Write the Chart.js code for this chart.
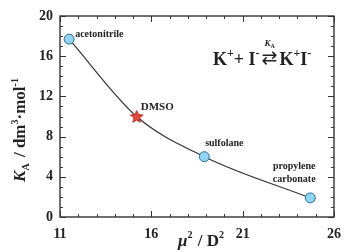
<!DOCTYPE html>
<html>
<head>
<meta charset="utf-8">
<script src="https://cdn.jsdelivr.net/npm/chart.js@4/dist/chart.umd.min.js"></script>
<style>
html, body { margin: 0; padding: 0; background: #fff; }
#wrap { width: 350px; height: 252px; }
</style>
</head>
<body>
<div id="wrap"><canvas id="chart"></canvas></div>
<script>
// Data
const solvents = ['acetonitrile', 'DMSO', 'sulfolane', 'propylene carbonate'];
const muSqOverD2 = [11.5, 15.2, 18.9, 24.7];
const kA = [17.7, 10.0, 6.0, 1.9];
const xTickLabels = [11, 16, 21, 26];
const yTickLabels = [0, 4, 8, 12, 16, 20];

const SERIF = '"Liberation Serif", "DejaVu Serif", serif';
const INK = '#222';

// Filled five point star for DMSO
function makeStar(size) {
    const c = document.createElement('canvas');
    c.width = size; c.height = size;
    const g = c.getContext('2d');
    const r = size / 2 - 1, ri = r * 0.45, cx = size / 2, cy = size / 2 + 0.5;
    g.beginPath();
    for (let i = 0; i < 10; i++) {
        const a = -Math.PI / 2 + i * Math.PI / 5;
        const rr = i % 2 ? ri : r;
        g.lineTo(cx + rr * Math.cos(a), cy + rr * Math.sin(a));
    }
    g.closePath();
    g.fillStyle = '#e5483c';
    g.fill();
    g.strokeStyle = '#a8281e';
    g.lineWidth = 1;
    g.stroke();
    return c;
}

const points = muSqOverD2.map((x, i) => ({ x: x, y: kA[i] }));
const star = makeStar(15);

// Draw a run of text pieces: [text, font, dy, extra gap]
function drawRun(ctx, pieces, x, y) {
    let cx = x;
    pieces.forEach(p => {
        ctx.font = p[1];
        ctx.fillText(p[0], cx, y + (p[2] || 0));
        cx += ctx.measureText(p[0]).width + (p[3] || 0);
    });
    return cx - x;
}
function runWidth(ctx, pieces) {
    let w = 0;
    pieces.forEach(p => { ctx.font = p[1]; w += ctx.measureText(p[0]).width + (p[3] || 0); });
    return w;
}

const framePlugin = {
    id: 'frame',
    afterDraw(chart) {
        const ctx = chart.ctx;
        const a = chart.chartArea;
        const xs = chart.scales.x, ys = chart.scales.y;
        ctx.save();
        ctx.strokeStyle = '#333';
        ctx.lineWidth = 1.4;
        ctx.strokeRect(a.left, a.top, a.right - a.left, a.bottom - a.top);

        // inward tick marks on all sides
        ctx.lineWidth = 1;
        for (let v = xs.min; v <= xs.max + 1e-9; v += 1) {
            const px = Math.round(xs.getPixelForValue(v)) + 0.5;
            const len = xTickLabels.includes(v) ? 6 : 3;
            ctx.beginPath();
            ctx.moveTo(px, a.bottom); ctx.lineTo(px, a.bottom - len);
            ctx.moveTo(px, a.top); ctx.lineTo(px, a.top + len);
            ctx.stroke();
        }
        for (let v = ys.min; v <= ys.max + 1e-9; v += 1) {
            const py = Math.round(ys.getPixelForValue(v)) + 0.5;
            const len = yTickLabels.includes(v) ? 6 : 3;
            ctx.beginPath();
            ctx.moveTo(a.left, py); ctx.lineTo(a.left + len, py);
            ctx.moveTo(a.right, py); ctx.lineTo(a.right - len, py);
            ctx.stroke();
        }

        ctx.fillStyle = INK;
        ctx.textBaseline = 'alphabetic';

        // point labels
        const px = i => xs.getPixelForValue(muSqOverD2[i]);
        const py = i => ys.getPixelForValue(kA[i]);
        ctx.font = 'bold 10px ' + SERIF;
        ctx.textAlign = 'left';
        ctx.fillText(solvents[0], px(0) + 6, py(0) - 2);
        ctx.font = 'bold 11px ' + SERIF;
        ctx.fillText(solvents[1], px(1) + 4, py(1) - 7);
        ctx.font = 'bold 10px ' + SERIF;
        ctx.textAlign = 'center';
        ctx.fillText(solvents[2], px(2) + 20, py(2) - 11);
        const pc = solvents[3].split(' ');
        ctx.fillText(pc[0], px(3) - 16, py(3) - 29);
        ctx.fillText(pc[1], px(3) - 16, py(3) - 16);

        // equilibrium equation
        ctx.textAlign = 'left';
        const big = 'bold 18px ' + SERIF, sup = 'bold 12px ' + SERIF;
        let x0 = 213;
        const base = 65;
        x0 += drawRun(ctx, [['K', big], ['+', sup, -8], ['+ ', big], ['I', big], ['-', sup, -8, 2]], x0, base);
        ctx.font = '19px "DejaVu Sans"';
        const arrowX = x0;
        ctx.fillText('\u21C4', x0, base - 1);
        const aw = ctx.measureText('\u21C4').width;
        x0 += aw + 2;
        drawRun(ctx, [['K', big], ['+', sup, -8], ['I', big], ['-', sup, -8]], x0, base);
        const kw = runWidth(ctx, [['K', 'italic bold 9px ' + SERIF], ['A', 'bold 6px ' + SERIF]]);
        drawRun(ctx, [['K', 'italic bold 9px ' + SERIF], ['A', 'bold 6px ' + SERIF, 2]], arrowX + aw / 2 - kw / 2, base - 19);

        // y axis title
        const yt = [['K', 'italic bold 17px ' + SERIF], ['A', 'bold 10px ' + SERIF, 4, 2], [' / dm', 'bold 17px ' + SERIF],
            ['3', 'bold 10px ' + SERIF, -7], ['\u00B7mol', 'bold 17px ' + SERIF], ['-1', 'bold 10px ' + SERIF, -7]];
        ctx.save();
        ctx.translate(25, 130);
        ctx.rotate(-Math.PI / 2);
        drawRun(ctx, yt, -runWidth(ctx, yt) / 2, 0);
        ctx.restore();

        // x axis title
        const xt = [['\u03BC', 'italic bold 17px ' + SERIF], ['2', 'bold 10px ' + SERIF, -8, 1], [' / D', 'bold 17px ' + SERIF],
            ['2', 'bold 10px ' + SERIF, -8]];
        drawRun(ctx, xt, 178, 246);
        ctx.restore();
    }
};

const chart = new Chart(document.getElementById('chart'), {
    type: 'scatter',
    data: {
        datasets: [
            {
                data: points,
                showLine: true,
                pointRadius: 0,
                borderColor: '#333',
                borderWidth: 1.2,
                cubicInterpolationMode: 'monotone',
                order: 2
            },
            {
                data: points,
                pointStyle: ['circle', star, 'circle', 'circle'],
                pointRadius: 5,
                backgroundColor: '#92d4f0',
                borderColor: '#2b6e99',
                borderWidth: 1,
                order: 1
            }
        ]
    },
    options: {
        responsive: true,
        maintainAspectRatio: false,
        animation: false,
        layout: { padding: { top: 16, right: 8, left: 0, bottom: 0 } },
        plugins: { legend: { display: false }, tooltip: { enabled: false } },
        scales: {
            x: {
                type: 'linear',
                min: 11,
                max: 26,
                grid: { display: false, drawTicks: false },
                border: { display: false },
                afterBuildTicks: s => { s.ticks = xTickLabels.map(v => ({ value: v })); },
                afterFit: s => { s.height = 35; },
                ticks: {
                    color: INK,
                    padding: 9,
                    maxRotation: 0,
                    font: { family: SERIF, size: 14, weight: 'bold' }
                }
            },
            y: {
                min: 0,
                max: 20,
                grid: { display: false, drawTicks: false },
                border: { display: false },
                afterBuildTicks: s => { s.ticks = yTickLabels.map(v => ({ value: v })); },
                afterFit: s => { s.width = 60; },
                ticks: {
                    color: INK,
                    padding: 7,
                    font: { family: SERIF, size: 14, weight: 'bold' }
                }
            }
        }
    },
    plugins: [framePlugin]
});
</script>
</body>
</html>
